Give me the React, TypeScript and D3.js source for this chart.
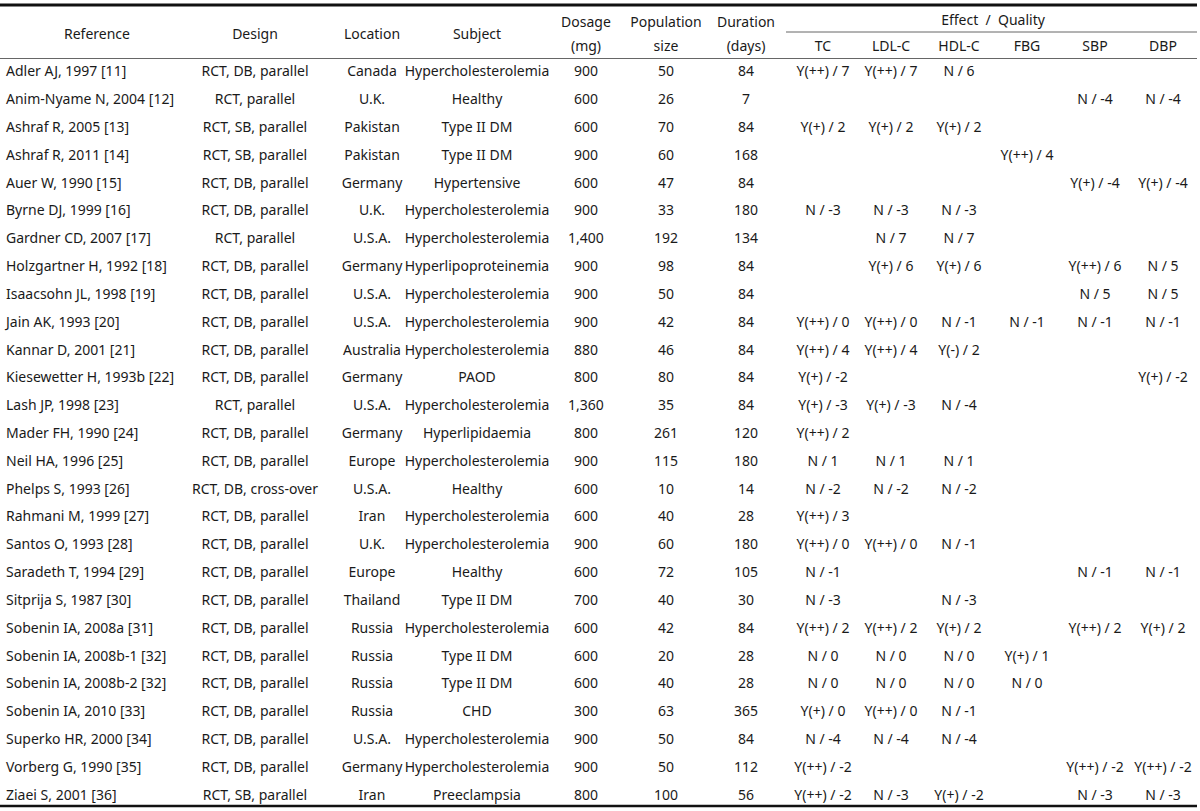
import React from "react";
import * as d3 from "d3";

const references = [
  "Adler AJ, 1997 [11]", "Anim-Nyame N, 2004 [12]", "Ashraf R, 2005 [13]", "Ashraf R, 2011 [14]",
  "Auer W, 1990 [15]", "Byrne DJ, 1999 [16]", "Gardner CD, 2007 [17]", "Holzgartner H, 1992 [18]",
  "Isaacsohn JL, 1998 [19]", "Jain AK, 1993 [20]", "Kannar D, 2001 [21]", "Kiesewetter H, 1993b [22]",
  "Lash JP, 1998 [23]", "Mader FH, 1990 [24]", "Neil HA, 1996 [25]", "Phelps S, 1993 [26]",
  "Rahmani M, 1999 [27]", "Santos O, 1993 [28]", "Saradeth T, 1994 [29]", "Sitprija S, 1987 [30]",
  "Sobenin IA, 2008a [31]", "Sobenin IA, 2008b-1 [32]", "Sobenin IA, 2008b-2 [32]", "Sobenin IA, 2010 [33]",
  "Superko HR, 2000 [34]", "Vorberg G, 1990 [35]", "Ziaei S, 2001 [36]",
];
const designs = [
  "RCT, DB, parallel", "RCT, parallel", "RCT, SB, parallel", "RCT, SB, parallel", "RCT, DB, parallel",
  "RCT, DB, parallel", "RCT, parallel", "RCT, DB, parallel", "RCT, DB, parallel", "RCT, DB, parallel",
  "RCT, DB, parallel", "RCT, DB, parallel", "RCT, parallel", "RCT, DB, parallel", "RCT, DB, parallel",
  "RCT, DB, cross-over", "RCT, DB, parallel", "RCT, DB, parallel", "RCT, DB, parallel", "RCT, DB, parallel",
  "RCT, DB, parallel", "RCT, DB, parallel", "RCT, DB, parallel", "RCT, DB, parallel", "RCT, DB, parallel",
  "RCT, DB, parallel", "RCT, SB, parallel",
];
const locations = [
  "Canada", "U.K.", "Pakistan", "Pakistan", "Germany", "U.K.", "U.S.A.", "Germany", "U.S.A.", "U.S.A.",
  "Australia", "Germany", "U.S.A.", "Germany", "Europe", "U.S.A.", "Iran", "U.K.", "Europe", "Thailand",
  "Russia", "Russia", "Russia", "Russia", "U.S.A.", "Germany", "Iran",
];
const subjects = [
  "Hypercholesterolemia", "Healthy", "Type II DM", "Type II DM", "Hypertensive", "Hypercholesterolemia",
  "Hypercholesterolemia", "Hyperlipoproteinemia", "Hypercholesterolemia", "Hypercholesterolemia",
  "Hypercholesterolemia", "PAOD", "Hypercholesterolemia", "Hyperlipidaemia", "Hypercholesterolemia",
  "Healthy", "Hypercholesterolemia", "Hypercholesterolemia", "Healthy", "Type II DM", "Hypercholesterolemia",
  "Type II DM", "Type II DM", "CHD", "Hypercholesterolemia", "Hypercholesterolemia", "Preeclampsia",
];
const dosages = [
  "900", "600", "600", "900", "600", "900", "1,400", "900", "900", "900", "880", "800", "1,360", "800",
  "900", "600", "600", "900", "600", "700", "600", "600", "600", "300", "900", "900", "800",
];
const populations = [
  "50", "26", "70", "60", "47", "33", "192", "98", "50", "42", "46", "80", "35", "261", "115", "10", "40",
  "60", "72", "40", "42", "20", "40", "63", "50", "50", "100",
];
const durations = [
  "84", "7", "84", "168", "84", "180", "134", "84", "84", "84", "84", "84", "84", "120", "180", "14", "28",
  "180", "105", "30", "84", "28", "28", "365", "84", "112", "56",
];
const tc = [
  "Y(++) / 7", "", "Y(+) / 2", "", "", "N / -3", "", "", "", "Y(++) / 0", "Y(++) / 4", "Y(+) / -2",
  "Y(+) / -3", "Y(++) / 2", "N / 1", "N / -2", "Y(++) / 3", "Y(++) / 0", "N / -1", "N / -3", "Y(++) / 2",
  "N / 0", "N / 0", "Y(+) / 0", "N / -4", "Y(++) / -2", "Y(++) / -2",
];
const ldl = [
  "Y(++) / 7", "", "Y(+) / 2", "", "", "N / -3", "N / 7", "Y(+) / 6", "", "Y(++) / 0", "Y(++) / 4", "",
  "Y(+) / -3", "", "N / 1", "N / -2", "", "Y(++) / 0", "", "", "Y(++) / 2", "N / 0", "N / 0", "Y(++) / 0",
  "N / -4", "", "N / -3",
];
const hdl = [
  "N / 6", "", "Y(+) / 2", "", "", "N / -3", "N / 7", "Y(+) / 6", "", "N / -1", "Y(-) / 2", "", "N / -4",
  "", "N / 1", "N / -2", "", "N / -1", "", "N / -3", "Y(+) / 2", "N / 0", "N / 0", "N / -1", "N / -4", "",
  "Y(+) / -2",
];
const fbg = [
  "", "", "", "Y(++) / 4", "", "", "", "", "", "N / -1", "", "", "", "", "", "", "", "", "", "", "",
  "Y(+) / 1", "N / 0", "", "", "", "",
];
const sbp = [
  "", "N / -4", "", "", "Y(+) / -4", "", "", "Y(++) / 6", "N / 5", "N / -1", "", "", "", "", "", "", "",
  "", "N / -1", "", "Y(++) / 2", "", "", "", "", "Y(++) / -2", "N / -3",
];
const dbp = [
  "", "N / -4", "", "", "Y(+) / -4", "", "", "N / 5", "N / 5", "N / -1", "", "Y(+) / -2", "", "", "", "",
  "", "", "N / -1", "", "Y(+) / 2", "", "", "", "", "Y(++) / -2", "N / -3",
];
const effectHeaders = ["TC", "LDL-C", "HDL-C", "FBG", "SBP", "DBP"];

const W = 1200;
const H = 811;
const FONT = "'Noto Sans', 'Open Sans', sans-serif";

export default function App() {
  const y = d3.scaleBand<number>().domain(d3.range(references.length)).range([58, 809]);
  const cols: { key: string; x: number; data: string[]; anchor: string }[] = [
    { key: "design", x: 255, data: designs, anchor: "middle" },
    { key: "location", x: 372, data: locations, anchor: "middle" },
    { key: "subject", x: 477, data: subjects, anchor: "middle" },
    { key: "dosage", x: 586, data: dosages, anchor: "middle" },
    { key: "pop", x: 666, data: populations, anchor: "middle" },
    { key: "dur", x: 746, data: durations, anchor: "middle" },
  ];
  const effCols = [tc, ldl, hdl, fbg, sbp, dbp];
  const effX = d3.scalePoint<string>().domain(effectHeaders).range([823, 1163]);
  const fs = 14;
  const color = "#1a1a1a";
  return (
    <div style={{ position: "absolute", left: 0, top: 0, width: W, height: H }}>
      <svg width={W} height={H} style={{ display: "block" }}
        fontFamily={FONT} fontSize={fs} fill={color}>
        <rect x={0} y={0} width={W} height={H} fill="#fff" />
        <line x1={0} x2={1197} y1={5} y2={5} stroke="#111" strokeWidth={3} />
        <line x1={786} x2={1197} y1={32} y2={32} stroke="#666" strokeWidth={1} />
        <line x1={0} x2={1197} y1={58.5} y2={58.5} stroke="#666" strokeWidth={1} />
        <line x1={0} x2={1197} y1={806} y2={806} stroke="#111" strokeWidth={2.5} />
        <g dominantBaseline="central">
          <text x={97} y={33} textAnchor="middle">Reference</text>
          <text x={255} y={33} textAnchor="middle">Design</text>
          <text x={372} y={33} textAnchor="middle">Location</text>
          <text x={477} y={33} textAnchor="middle">Subject</text>
          <text x={586} y={21} textAnchor="middle">Dosage</text>
          <text x={586} y={45} textAnchor="middle">(mg)</text>
          <text x={666} y={21} textAnchor="middle">Population</text>
          <text x={666} y={45} textAnchor="middle">size</text>
          <text x={746} y={21} textAnchor="middle">Duration</text>
          <text x={746} y={45} textAnchor="middle">(days)</text>
          <text x={993} y={19} textAnchor="middle" xmlSpace="preserve">Effect  /  Quality</text>
          {effectHeaders.map((h) => (
            <text key={h} x={effX(h)} y={45} textAnchor="middle">{h}</text>
          ))}
        </g>
        <g dominantBaseline="central">
          {references.map((r, i) => {
            const cy = (y(i) as number) + y.bandwidth() / 2 - 1;
            return (
              <g key={i}>
                <text x={6} y={cy} textAnchor="start">{r}</text>
                {cols.map((c) => (
                  <text key={c.key} x={c.x} y={cy} textAnchor={c.anchor}>{c.data[i]}</text>
                ))}
                {effCols.map((arr, j) =>
                  arr[i] ? (
                    <text key={j} x={effX(effectHeaders[j])} y={cy} textAnchor="middle">{arr[i]}</text>
                  ) : null
                )}
              </g>
            );
          })}
        </g>
      </svg>
    </div>
  );
}
